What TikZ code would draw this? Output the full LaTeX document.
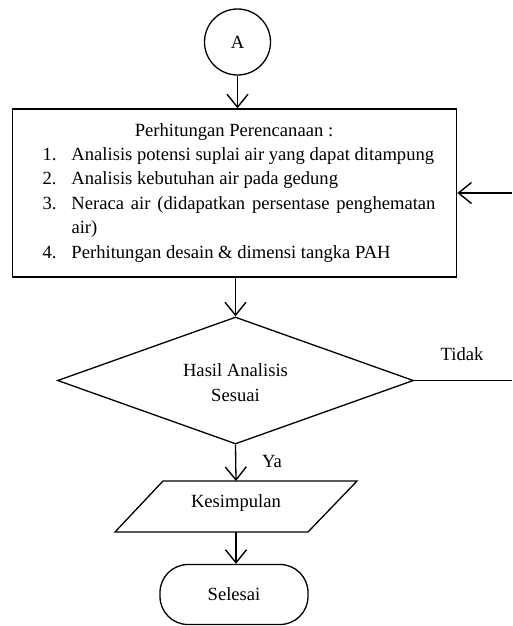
\documentclass[tikz,border=0pt]{standalone}
\usepackage{fontspec}
\setmainfont{Liberation Serif}
\usetikzlibrary{arrows.meta,shapes.geometric}
\begin{document}
\begin{tikzpicture}[x=1pt,y=-1pt,
  line width=1.3pt,
  every node/.style={font=\fontsize{18.6}{24.4}\selectfont},
  arr/.style={-{Straight Barb[length=13pt,width=21pt,line width=1.4pt]}},
  plain/.style={draw, line width=1.3pt, inner sep=0pt}]
\useasboundingbox (0,0) rectangle (512,626);
\node[plain, circle, minimum size=66pt] (A) at (237.5,42) {A};
\node[plain, rectangle, minimum width=444pt, minimum height=168pt] (box) at (234.7,193) {};
\node[inner sep=0pt, anchor=north] (boxtext) at (239,122.5) {\parbox{393pt}{%
  \centering\hspace*{-10pt}Perhitungan Perencanaan :\par
  \leftskip=0pt\rightskip=0pt\parfillskip=0pt plus 1fil\relax
  \hangindent=29pt\hangafter=1\noindent\makebox[29pt][l]{1.}Analisis potensi suplai air yang dapat ditampung\par
  \hangindent=29pt\hangafter=1\noindent\makebox[29pt][l]{2.}Analisis kebutuhan air pada gedung\par
  \hangindent=29pt\hangafter=1\noindent\makebox[29pt][l]{3.}Neraca air (didapatkan persentase penghematan air)\par
  \hangindent=29pt\hangafter=1\noindent\makebox[29pt][l]{4.}Perhitungan desain \& dimensi tangka PAH}};
\node[plain, diamond, minimum width=356pt, minimum height=127pt, aspect=2.8] (dia) at (235.5,380.5) {};
\node[align=center, inner sep=0pt] (diatext) at (235.5,382.5) {Hasil Analisis\\Sesuai};
\coordinate (ktl) at (163,481);
\coordinate (ktr) at (357,481);
\coordinate (kbr) at (308,532);
\coordinate (kbl) at (115,532);
\coordinate (ktop) at (236,481);
\coordinate (kbot) at (236,532);
\draw[line join=miter] (ktl) -- (ktr) -- (kbr) -- (kbl) -- cycle;
\node[inner sep=0pt] (kes) at (236,503.5) {Kesimpulan};
\node[plain, rectangle, rounded corners=28pt, minimum width=148pt, minimum height=60pt] (end) at (234,594.5) {Selesai};
\node[inner sep=0pt] (ya) at (272,461) {Ya};
\node[inner sep=0pt] (tidak) at (462,354) {Tidak};
\coordinate (r1) at (512,380.5);
\coordinate (r2) at (512,193);
\draw[arr] (A.south) -- (A.south |- box.north);
\draw[arr] (box.south -| dia.north) -- (dia.north);
\draw[arr] (dia.south) -- (ktop);
\draw[arr] (kbot) -- (kbot |- end.north);
\draw (dia.east) -- (r1);
\draw[arr] (r2) -- (box.east);
\end{tikzpicture}
\end{document}
